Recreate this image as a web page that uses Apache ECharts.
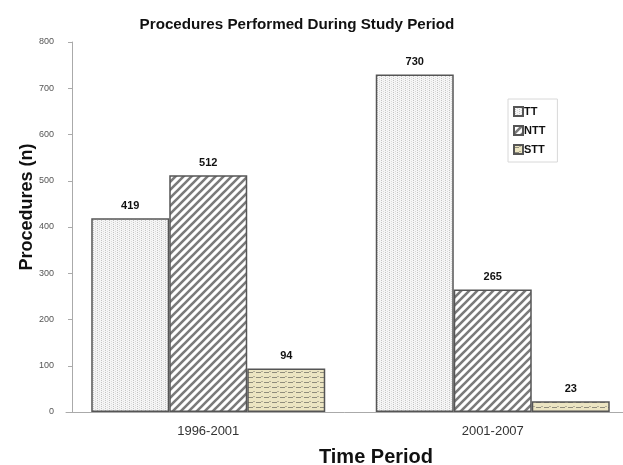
<!DOCTYPE html>
<html><head><meta charset="utf-8">
<script src="https://cdn.jsdelivr.net/npm/echarts@6/dist/echarts.min.js"></script>
<style>html,body{margin:0;padding:0;background:#fff;overflow:hidden}#c{width:623px;height:465px}</style>
</head><body><div id="c"></div>
<script>
const categories = ['1996-2001', '2001-2007'];
const seriesNames = ['TT', 'NTT', 'STT'];
const ttValues = [419, 730];
const nttValues = [512, 265];
const sttValues = [94, 23];
const yTicks = [0, 100, 200, 300, 400, 500, 600, 700, 800];

function mk(w, h, draw) {
  const c = document.createElement('canvas');
  c.width = w; c.height = h;
  draw(c.getContext('2d'));
  return c;
}
const dotPat = mk(4, 4, g => {
  g.fillStyle = '#f6f6f6'; g.fillRect(0, 0, 4, 4);
  g.fillStyle = '#c4c4c4'; g.fillRect(1, 0, 1, 1); g.fillRect(1, 2, 1, 1);
  g.fillStyle = '#dcdcdc'; g.fillRect(3, 1, 1, 1); g.fillRect(3, 3, 1, 1);
});
const diagPat = mk(8, 8, g => {
  g.fillStyle = '#ffffff'; g.fillRect(0, 0, 8, 8);
  g.strokeStyle = '#7a7a7a'; g.lineWidth = 2.6;
  g.beginPath();
  g.moveTo(-2, 10); g.lineTo(10, -2);
  g.moveTo(-6, 6); g.lineTo(6, -6);
  g.moveTo(2, 14); g.lineTo(14, 2);
  g.stroke();
});
const wavePat = mk(8, 5, g => {
  g.fillStyle = '#ece5c2'; g.fillRect(0, 0, 8, 5);
  g.fillStyle = '#8f8c7c';
  g.fillRect(0, 2, 5, 1);
  g.fillStyle = '#b5b09a';
  g.fillRect(5, 1, 2, 1);
});
const patterns = [dotPat, diagPat, wavePat];
const values = [ttValues, nttValues, sttValues];

const chart = echarts.init(document.getElementById('c'));
chart.setOption({
  animation: false,
  backgroundColor: '#fff',
  textStyle: { fontFamily: 'Liberation Sans, Arial, sans-serif' },
  title: {
    text: 'Procedures Performed During Study Period',
    left: 292, textAlign: 'center', top: 12,
    textStyle: { fontSize: 15.2, fontWeight: 'bold', color: '#111' }
  },
  legend: {
    orient: 'vertical', left: 508, top: 99,
    itemWidth: 9, itemHeight: 9, itemGap: 8,
    padding: [7, 12, 7, 5],
    borderColor: '#d8d8d8', borderWidth: 1,
    textStyle: { fontSize: 11, fontWeight: 'bold', color: '#111', padding: [0, 0, 0, -4] },
    data: seriesNames.map(n => ({ name: n, icon: 'rect' }))
  },
  grid: { left: 66, right: -12, top: 42, bottom: 53, containLabel: false, outerBoundsMode: 'none' },
  xAxis: {
    type: 'category', data: categories,
    name: 'Time Period', nameLocation: 'middle', nameGap: 35,
    nameTextStyle: { fontSize: 20, fontWeight: 'bold', color: '#111', padding: [0, 0, 0, 51] },
    axisLine: { show: true, lineStyle: { color: '#aaa', width: 1 } },
    axisTick: { show: false },
    axisLabel: { fontSize: 13, color: '#333', margin: 13 }
  },
  yAxis: {
    type: 'value', min: 0, max: 800, interval: 100, offset: -6,
    name: 'Procedures (n)', nameLocation: 'middle', nameGap: 36, nameMoveOverlap: false,
    nameTextStyle: { fontSize: 18, fontWeight: 'bold', color: '#111', padding: [0, 0, 0, 40] },
    axisLine: { show: true, onZero: false, lineStyle: { color: '#aaa', width: 1 } },
    axisTick: { show: true, length: 4, lineStyle: { color: '#aaa' } },
    splitLine: { show: false },
    axisLabel: { fontSize: 9, color: '#555', margin: 18,
      formatter: v => yTicks.includes(v) ? String(v) : '' }
  },
  series: seriesNames.map((n, i) => ({
    name: n, type: 'bar', data: values[i],
    barWidth: 78, barGap: '0%',
    itemStyle: {
      color: { image: patterns[i], repeat: 'repeat' },
      borderColor: '#555', borderWidth: 1.5
    },
    label: { show: true, position: 'top', distance: 7,
      fontSize: 11, fontWeight: 'bold', color: '#111' }
  }))
});
</script></body></html>
